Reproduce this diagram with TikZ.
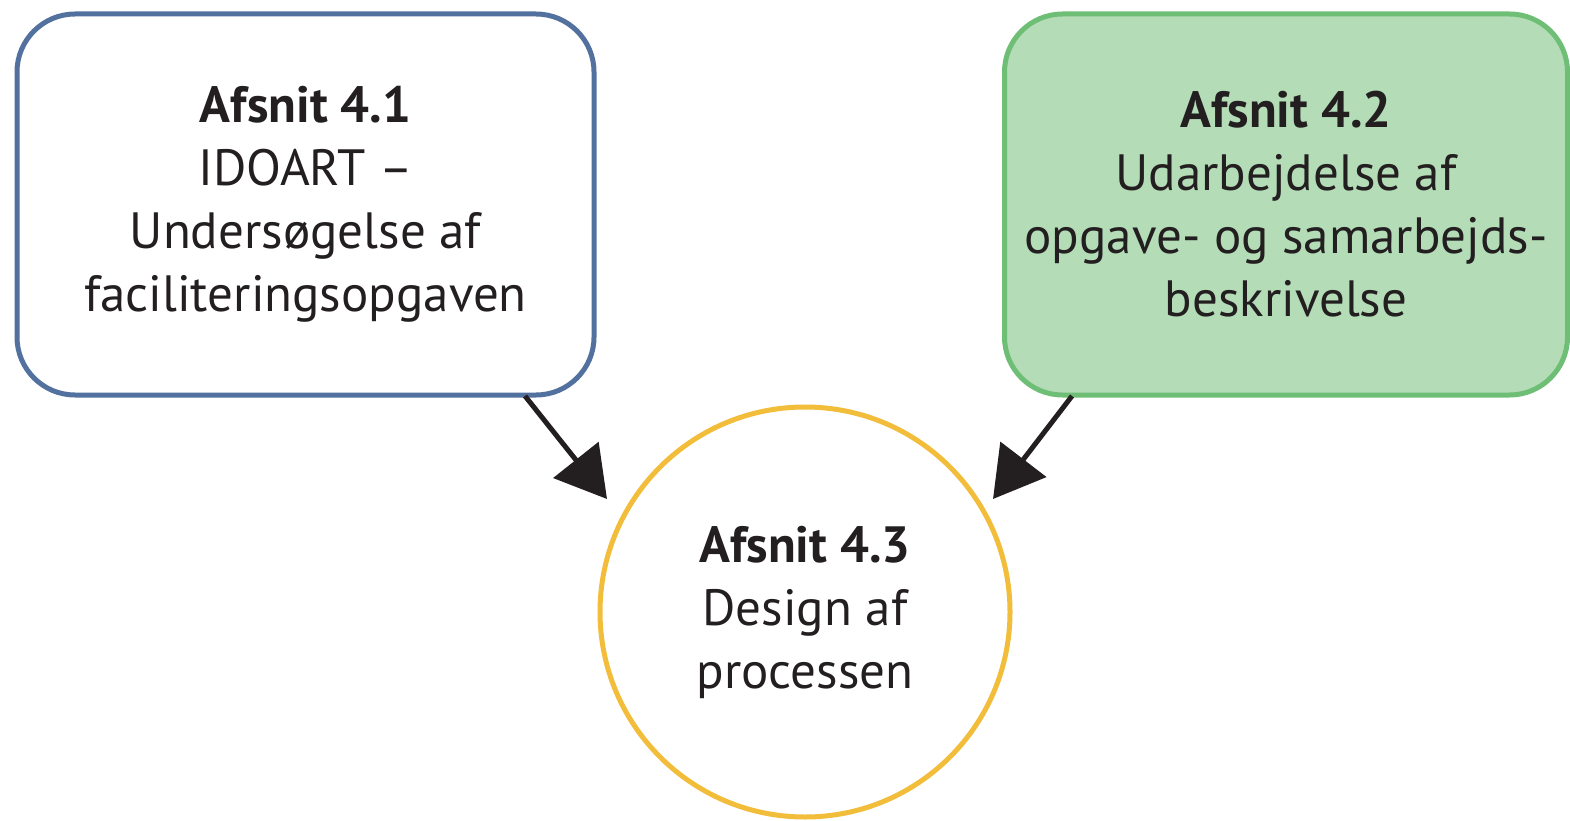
\documentclass[tikz,border=0pt]{standalone}
\usepackage{fontspec}
\setmainfont{PT Sans}
\usetikzlibrary{arrows.meta}
\definecolor{boxblue}{HTML}{52719F}
\definecolor{boxgreen}{HTML}{6FBE76}
\definecolor{fillgreen}{HTML}{B3DCB7}
\definecolor{ringyellow}{HTML}{F3BD3C}
\definecolor{ink}{HTML}{231F20}
\tikzset{
  label text/.style={text=ink, align=center, font=\fontsize{51}{63}\selectfont},
  section box/.style={label text, rounded corners=58pt, line width=5pt,
    minimum width=577pt, minimum height=381pt, inner sep=0pt},
  flow arrow/.style={line width=5pt, draw=ink, -{Triangle[length=50pt,width=57pt]}}
}
\begin{document}
\begin{tikzpicture}[x=1pt,y=-1pt]
  \useasboundingbox (0,0) rectangle (1570,821);
  % the two sections feeding the process design
  \node[section box, draw=boxblue, fill=white] (s41) at (305.5,204.5)
    {\textbf{Afsnit 4.1}\\IDOART –\\Undersøgelse af\\faciliteringsopgaven};
  \node[section box, draw=boxgreen, fill=fillgreen, minimum width=563pt] (s42) at (1286,204.5)
    {\textbf{Afsnit 4.2}\\Udarbejdelse af\\opgave- og samarbejds-\\beskrivelse};
  % the resulting section
  \node[label text, circle, draw=ringyellow, line width=5pt, minimum size=410pt, inner sep=0pt]
    (s43) at (805,612)
    {\textbf{Afsnit 4.3}\\Design af\\processen};
  % arrow ends
  \coordinate (a41) at (525,396);
  \coordinate (t41) at (607,499);
  \coordinate (a42) at (1072,396);
  \coordinate (t42) at (993,499);
  \draw[flow arrow] (a41) -- (t41);
  \draw[flow arrow] (a42) -- (t42);
\end{tikzpicture}
\end{document}
